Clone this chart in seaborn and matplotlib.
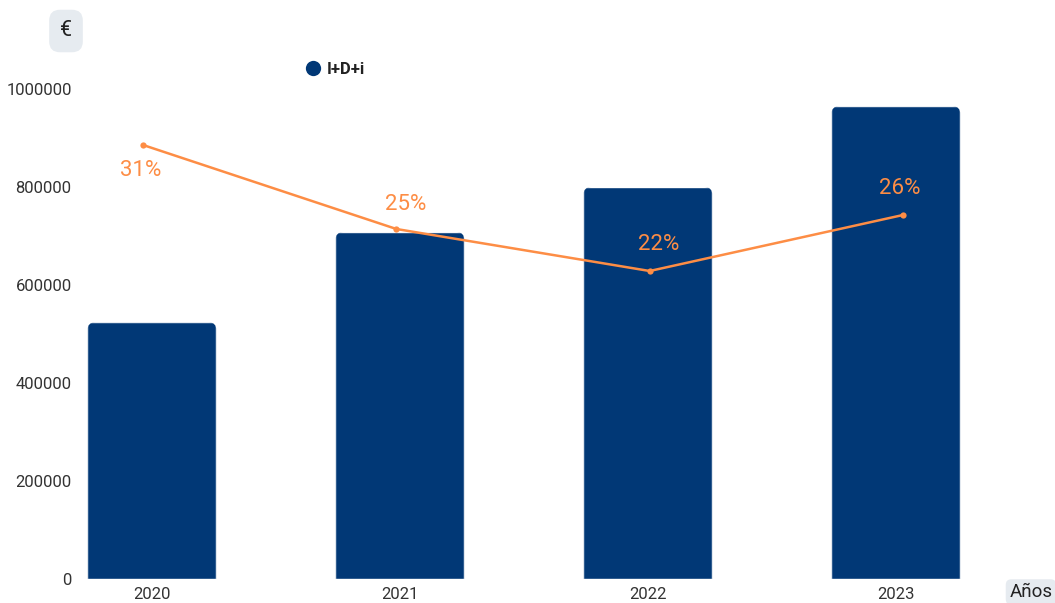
import matplotlib
matplotlib.use("Agg")
import matplotlib.pyplot as plt
from matplotlib.patches import FancyBboxPatch
from matplotlib.transforms import IdentityTransform
from matplotlib.lines import Line2D
import seaborn as sns
import pandas as pd

# Data
years = ["2020", "2021", "2022", "2023"]
idi_eur = [524000, 708000, 800000, 965000]
idi_pct = [31, 25, 22, 26]
pct_labels = ["31%", "25%", "22%", "26%"]
y_ticks = [0, 200000, 400000, 600000, 800000, 1000000]

BAR = "#013876"
ORANGE = "#fd8d45"
TEXT = "#333333"

sns.set_theme(style="white")
plt.rcParams["font.family"] = ["Roboto", "DejaVu Sans"]

W, H = 1055, 603
rect = [80 / W, 24 / H, 920 / W, 490 / H]
fig = plt.figure(figsize=(W / 100, H / 100), dpi=100)
ax = fig.add_axes(rect)

df = pd.DataFrame({"year": years, "eur": idi_eur, "pct": idi_pct})
sns.barplot(data=df, x="year", y="eur", color=BAR, width=0.52, ax=ax,
            saturation=1)

ax.set_xlim(-0.29, 3.42)
ax.set_ylim(0, 1000000)
ax.set_yticks(y_ticks)
ax.set_yticklabels([str(v) for v in y_ticks])
ax.tick_params(axis="both", length=0, labelsize=12, labelcolor=TEXT, pad=6)
ax.set_xlabel("")
ax.set_ylabel("")
for s in ax.spines.values():
    s.set_visible(False)

# percentage line on an overlaid, independent axes (own x spacing, 0-35 %)
ax2 = fig.add_axes(rect, label="pct")
sns.lineplot(data=df, x="year", y="pct", color=ORANGE, linewidth=1.8,
             marker="o", markersize=4.5, markeredgewidth=0, ax=ax2)
ax2.set_ylim(0, 35)
ax2.set_xlim(-0.249, 3.383)
ax2.axis("off")

label_offsets = [(-1.5, -18), (6.5, 18), (6.5, 19), (-2, 19)]
for i, (v, t) in enumerate(zip(idi_pct, pct_labels)):
    ax2.annotate(t, (i, v), xytext=label_offsets[i], textcoords="offset points",
                 ha="center", va="center", color=ORANGE, fontsize=16)

# rounded top corners: clip each bar to a rounded box in pixel space
fig.canvas.draw()
r_px = 8
for p in list(ax.patches):
    (x0, y0), (x1, y1) = ax.transData.transform(
        [(p.get_x(), 0), (p.get_x() + p.get_width(), p.get_height())])
    clip = FancyBboxPatch((x0, y0 - 30), x1 - x0, (y1 - y0) + 30,
                          boxstyle=f"round,pad=0,rounding_size={r_px}",
                          transform=IdentityTransform(),
                          facecolor="none", edgecolor="none")
    p.set_clip_path(clip)

# legend
handle = Line2D([], [], marker="o", linestyle="none", markersize=11,
                markerfacecolor=BAR, markeredgewidth=0)
leg = fig.legend([handle], ["I+D+i"], loc="center left",
                 bbox_to_anchor=(295 / W, 1 - 69 / H), frameon=False,
                 handletextpad=0.2, borderpad=0, handlelength=1.2,
                 prop={"size": 12, "weight": "bold"})
for t in leg.get_texts():
    t.set_color("#222222")

# unit and axis captions
fig.text(66 / W, 1 - 31 / H, "€", ha="center", va="center", fontsize=15.5,
         color="#222222",
         bbox=dict(boxstyle="round,pad=0.5,rounding_size=0.5",
                   facecolor="#e6ebf0", edgecolor="none"))
fig.text(1031 / W, 1 - 592 / H, "Años", ha="center", va="center", fontsize=13.5,
         color="#222222",
         bbox=dict(boxstyle="round,pad=0.2,rounding_size=0.3",
                   facecolor="#e6ebf0", edgecolor="none"))

fig.savefig("out.png", dpi=100)
